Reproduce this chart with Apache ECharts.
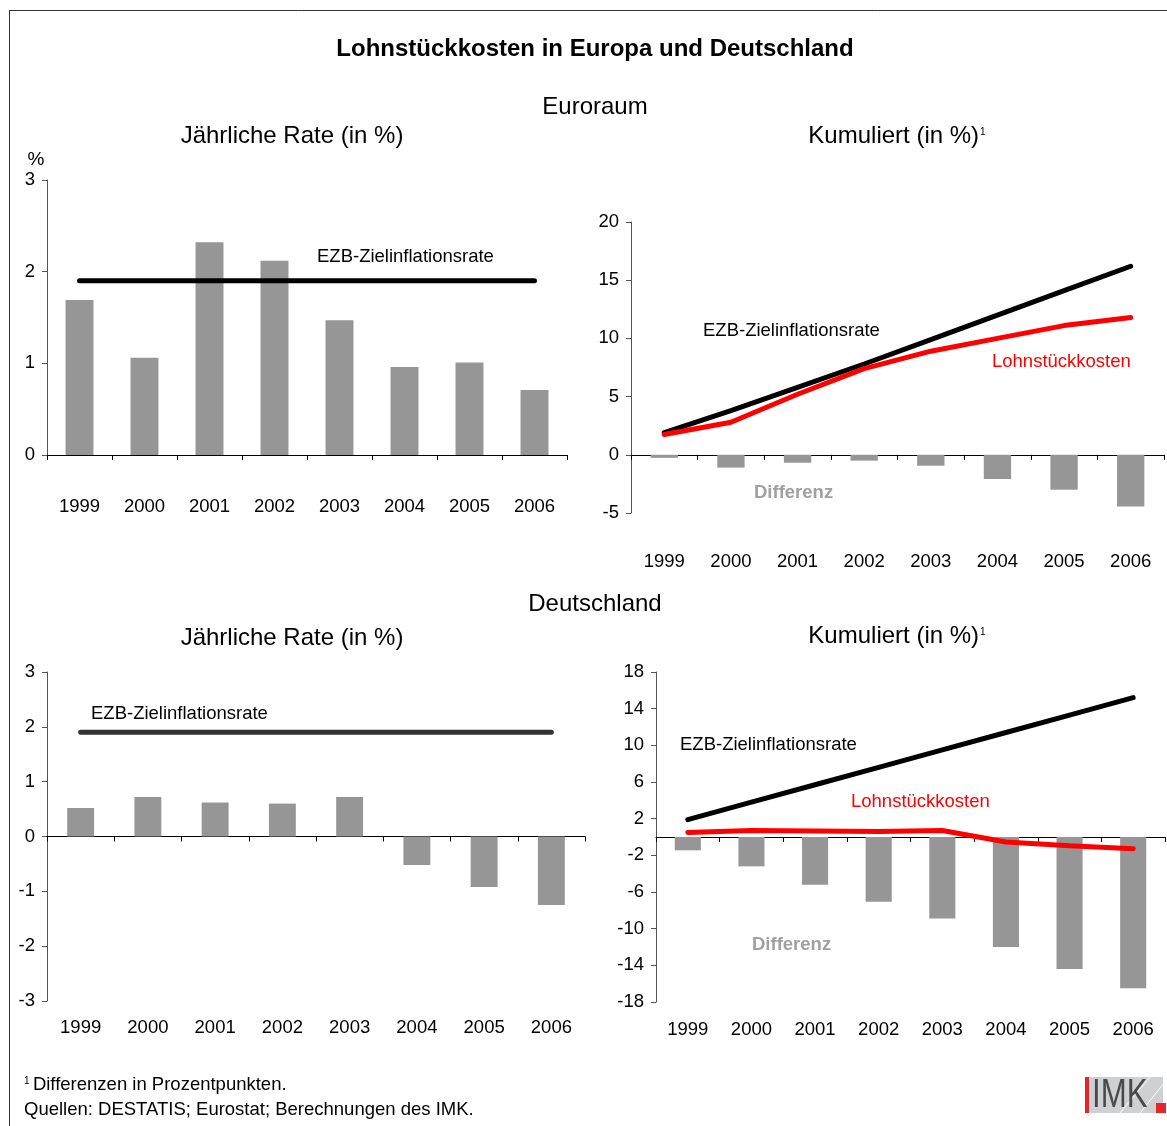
<!DOCTYPE html>
<html>
<head>
<meta charset="utf-8">
<script src="https://cdn.jsdelivr.net/npm/echarts@6/dist/echarts.min.js"></script>
<style>
  html, body { margin: 0; padding: 0; background: #fff; }
  #chart { width: 1167px; height: 1126px; }
</style>
</head>
<body>
<div id="chart"></div>
<script>
// Daten
const years = ["1999", "2000", "2001", "2002", "2003", "2004", "2005", "2006"];
// Euroraum
const euroRate = [1.69, 1.06, 2.32, 2.12, 1.47, 0.96, 1.01, 0.71];
const euroTarget = [1.9, 1.9, 1.9, 1.9, 1.9, 1.9, 1.9, 1.9];
const euroCumTarget = [1.9, 3.8, 5.8, 7.8, 9.9, 12.0, 14.1, 16.2];
const euroCumLsk = [1.75, 2.8, 5.2, 7.4, 8.9, 10.0, 11.1, 11.8];
const euroCumDiff = [-0.26, -1.1, -0.68, -0.5, -0.94, -2.08, -3.0, -4.45];
// Deutschland
const deRate = [0.52, 0.72, 0.62, 0.60, 0.72, -0.52, -0.92, -1.25];
const deTarget = [1.9, 1.9, 1.9, 1.9, 1.9, 1.9, 1.9, 1.9];
const deCumTarget = [1.9, 3.8, 5.7, 7.6, 9.5, 11.4, 13.3, 15.2];
const deCumLsk = [0.5, 0.7, 0.65, 0.6, 0.7, -0.55, -0.95, -1.28];
const deCumDiff = [-1.45, -3.2, -5.2, -7.05, -8.9, -12.0, -14.4, -16.5];
// Achsen-Ticks unten rechts
const deCumTicks = [-18, -14, -10, -6, -2, 2, 6, 10, 14, 18];

const FONT = "'Liberation Sans', Arial, sans-serif";
const BAR = "#969696";
const FS = 18.5; // Schriftgröße Achsen/Beschriftung

const chart = echarts.init(document.getElementById("chart"));

// x-Achse auf der Nulllinie (nur Linie + Ticks)
function zeroAxis(grid) {
  return {
    type: "category", gridIndex: grid, data: years, position: "bottom",
    axisLine: { onZero: true, lineStyle: { color: "#000", width: 1 } },
    axisTick: { show: true, interval: 0, length: 5, lineStyle: { color: "#000" } },
    axisLabel: { show: false },
    splitLine: { show: false }
  };
}
// x-Achse unten (nur Beschriftung)
function labelAxis(grid, margin) {
  return {
    type: "category", gridIndex: grid, data: years, position: "bottom",
    axisLine: { show: false, onZero: false },
    axisTick: { show: false },
    axisLabel: { interval: 0, margin: margin, fontSize: FS, color: "#000", fontFamily: FONT },
    splitLine: { show: false }
  };
}
function valAxis(grid, min, max, interval, custom) {
  const ax = {
    type: "value", gridIndex: grid, min: min, max: max, interval: interval,
    axisLine: { show: true, lineStyle: { color: "#555" } },
    axisTick: { show: true, length: 5, lineStyle: { color: "#555" } },
    axisLabel: { margin: 12, fontSize: FS, color: "#000", fontFamily: FONT },
    splitLine: { show: false }
  };
  if (custom) {
    ax.axisLabel.customValues = custom;
    ax.axisTick.customValues = custom;
  }
  return ax;
}
function bars(x, y, data, w) {
  return {
    type: "bar", xAxisIndex: x, yAxisIndex: y, data: data, barWidth: w,
    itemStyle: { color: BAR }, z: 1
  };
}
function line(x, y, data, color) {
  return {
    type: "line", xAxisIndex: x, yAxisIndex: y, data: data, symbol: "none",
    lineStyle: { color: color, width: 5, cap: "round" }, z: 3
  };
}
function txt(x, y, text, size, opts) {
  return {
    type: "text", x: x, y: y, silent: true,
    style: Object.assign({
      text: text, font: (opts && opts.weight ? opts.weight + " " : "") + size + "px " + FONT,
      fill: "#000", textAlign: "left", textVerticalAlign: "middle"
    }, opts && opts.style)
  };
}
function center(x, y, text, size, weight) {
  return txt(x, y, text, size, { weight: weight, style: { textAlign: "center" } });
}
function supTitle(x, y) {
  return {
    type: "text", x: x, y: y, silent: true,
    style: {
      text: "{a|Kumuliert (in %)}{b|1}",
      textAlign: "center", textVerticalAlign: "middle",
      rich: {
        a: { fontSize: 24, fontFamily: FONT, fill: "#000" },
        b: { fontSize: 10, fontFamily: FONT, fill: "#000", padding: [0, 0, 8, 1] }
      }
    }
  };
}

const option = {
  animation: false,
  backgroundColor: "#fff",
  grid: [
    { left: 47, top: 180, width: 520, height: 275 },
    { left: 631, top: 222, width: 533, height: 291 },
    { left: 47, top: 672, width: 538, height: 329 },
    { left: 656, top: 672, width: 509, height: 330 }
  ],
  xAxis: [
    Object.assign(zeroAxis(0), { axisLabel: { show: true, interval: 0, margin: 42, fontSize: FS, color: "#000", fontFamily: FONT } }),
    zeroAxis(1), labelAxis(1, 39),
    zeroAxis(2), labelAxis(2, 17),
    zeroAxis(3), labelAxis(3, 18)
  ],
  yAxis: [
    valAxis(0, 0, 3, 1),
    valAxis(1, -5, 20, 5),
    valAxis(2, -3, 3, 1),
    valAxis(3, -18, 18, 2, deCumTicks)
  ],
  series: [
    bars(0, 0, euroRate, "43%"),
    line(0, 0, euroTarget, "#000"),
    bars(1, 1, euroCumDiff, "41%"),
    line(1, 1, euroCumTarget, "#000"),
    line(1, 1, euroCumLsk, "#ff0000"),
    bars(3, 2, deRate, "40%"),
    line(3, 2, deTarget, "#333"),
    bars(5, 3, deCumDiff, "41%"),
    line(5, 3, deCumTarget, "#000"),
    line(5, 3, deCumLsk, "#ff0000")
  ],
  graphic: [
    // Rahmen
    { type: "line", shape: { x1: 9, y1: 10.5, x2: 1167, y2: 10.5 }, style: { stroke: "#333", lineWidth: 1 } },
    { type: "line", shape: { x1: 9.5, y1: 10, x2: 9.5, y2: 1126 }, style: { stroke: "#333", lineWidth: 1 } },
    // Titel
    center(595, 49, "Lohnstückkosten in Europa und Deutschland", 24, "bold"),
    center(595, 107, "Euroraum", 24),
    center(292, 136, "Jährliche Rate (in %)", 24),
    supTitle(897, 136),
    center(595, 604, "Deutschland", 24),
    center(292, 638, "Jährliche Rate (in %)", 24),
    supTitle(897, 636),
    center(36, 160, "%", 19),
    // Beschriftungen in den Diagrammen
    txt(317, 257, "EZB-Zielinflationsrate", FS),
    txt(703, 331, "EZB-Zielinflationsrate", FS),
    txt(992, 362, "Lohnstückkosten", FS, { style: { fill: "#ff0000" } }),
    txt(754, 493, "Differenz", FS, { weight: "bold", style: { fill: "#a0a0a0" } }),
    txt(91, 714, "EZB-Zielinflationsrate", FS),
    txt(680, 745, "EZB-Zielinflationsrate", FS),
    txt(851, 802, "Lohnstückkosten", FS, { style: { fill: "#ff0000" } }),
    txt(752, 945, "Differenz", FS, { weight: "bold", style: { fill: "#a0a0a0" } }),
    // Fußnoten
    {
      type: "text", x: 24, y: 1085, silent: true,
      style: {
        text: "{s|1} {t|Differenzen in Prozentpunkten.}", textVerticalAlign: "middle",
        rich: {
          s: { fontSize: 10, fontFamily: FONT, fill: "#000", padding: [0, 0, 7, 0] },
          t: { fontSize: 18.5, fontFamily: FONT, fill: "#000" }
        }
      }
    },
    txt(24, 1110, "Quellen: DESTATIS; Eurostat; Berechnungen des IMK.", 18.5),
    // IMK-Logo
    { type: "rect", shape: { x: 1085, y: 1077, width: 78, height: 36 }, style: { fill: "#cfd0d2" } },
    { type: "rect", shape: { x: 1085, y: 1077, width: 4, height: 36 }, style: { fill: "#e3262b" } },
    { type: "line", shape: { x1: 1120, y1: 1113, x2: 1150, y2: 1077 }, style: { stroke: "#fff", lineWidth: 1 } },
    { type: "line", shape: { x1: 1140, y1: 1113, x2: 1165, y2: 1082 }, style: { stroke: "#fff", lineWidth: 1 } },
    {
      type: "text", x: 1092, y: 1096, silent: true,
      style: { text: "IMK", font: "40px " + FONT, fill: "#4a4a4a", textAlign: "left", textVerticalAlign: "middle" },
      scaleX: 0.78
    },
    { type: "rect", shape: { x: 1156, y: 1103, width: 10, height: 10 }, style: { fill: "#e3262b" } }
  ]
};

chart.setOption(option);
</script>
</body>
</html>
